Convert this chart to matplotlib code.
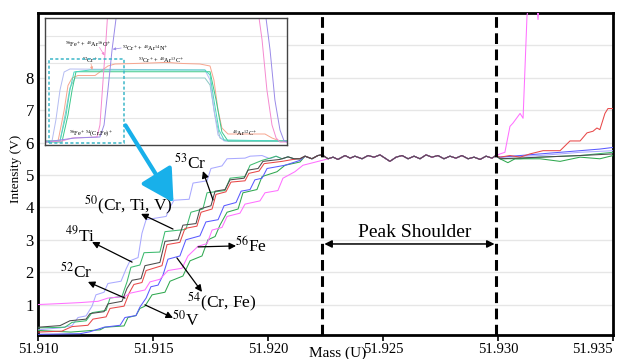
import numpy as np
import matplotlib
matplotlib.use("Agg")
import matplotlib.pyplot as plt
from matplotlib.patches import Rectangle, FancyArrowPatch

plt.rcParams['font.family'] = ['Liberation Serif', 'DejaVu Serif']
plt.rcParams['mathtext.fontset'] = 'stix'

# ---------------- main chart data (mass in u, intensity in V) ----------------
lav_m = [51.91000,51.91096,51.91148,51.91174,51.91209,51.91235,51.91252,51.91287,51.91304,51.91361,51.91383,51.91400,51.91435,51.91452,51.91470,51.91557,51.91574,51.91591,51.91657,51.91674,51.91735,51.91752,51.91800,51.91822,51.91900,51.91922,51.91974]
lav_v = [0.22,0.28,0.35,0.60,0.65,0.95,1.30,1.38,1.65,1.72,2.10,2.35,2.45,3.20,3.62,3.72,4.00,4.22,4.25,4.75,4.82,5.20,5.28,5.50,5.52,5.58,5.60]

g1_m = [51.91000,51.91117,51.91148,51.91209,51.91235,51.91296,51.91313,51.91365,51.91387,51.91404,51.91443,51.91461,51.91530,51.91552,51.91643,51.91665,51.91717,51.91735,51.91813,51.91835,51.91900,51.91922,51.91974,51.92009]
g1_v = [0.28,0.30,0.45,0.50,0.75,0.82,1.20,1.25,1.70,2.15,2.22,2.60,2.62,3.25,3.32,3.85,3.95,4.45,4.52,4.90,4.95,5.30,5.45,5.52]

gray_m = [51.91000,51.91096,51.91139,51.91209,51.91226,51.91287,51.91304,51.91365,51.91387,51.91409,51.91448,51.91465,51.91530,51.91552,51.91609,51.91630,51.91687,51.91704,51.91752,51.91770,51.91813,51.91835,51.91896,51.91913,51.91957,51.91978,51.92052]
gray_v = [0.30,0.35,0.50,0.55,0.72,0.78,1.02,1.10,1.50,1.75,1.80,2.20,2.30,2.95,3.00,3.45,3.50,3.95,4.05,4.50,4.55,4.85,4.90,5.15,5.20,5.42,5.48]

red_m = [51.91000,51.91104,51.91148,51.91217,51.91239,51.91296,51.91313,51.91374,51.91396,51.91417,51.91452,51.91470,51.91539,51.91561,51.91617,51.91639,51.91691,51.91709,51.91757,51.91774,51.91817,51.91839,51.91900,51.91917,51.91961,51.91983,51.92061,51.92126]
red_v = [0.15,0.18,0.32,0.36,0.55,0.62,0.88,0.95,1.35,1.62,1.68,2.05,2.20,2.85,2.92,3.35,3.42,3.85,3.95,4.40,4.48,4.78,4.82,5.05,5.12,5.35,5.42,5.50]

blue_m = [51.91000,51.91183,51.91226,51.91287,51.91357,51.91378,51.91426,51.91443,51.91470,51.91491,51.91522,51.91543,51.91565,51.91617,51.91643,51.91704,51.91730,51.91783,51.91809,51.91861,51.91883,51.91922,51.91943,51.91974,51.91996,51.92074,51.92139]
blue_v = [0.08,0.10,0.16,0.30,0.36,0.60,0.66,0.92,1.20,1.55,1.60,1.90,2.40,2.50,3.00,3.12,3.55,3.62,4.05,4.15,4.50,4.55,4.85,4.90,5.20,5.30,5.45]

mag_m = [51.91000,51.91096,51.91183,51.91261,51.91304,51.91378,51.91400,51.91465,51.91487,51.91530,51.91565,51.91626,51.91652,51.91696,51.91735,51.91757,51.91800,51.91822,51.91878,51.91900,51.91965,51.91987,51.92043,51.92065,51.92117,51.92152,51.92235]
mag_v = [1.00,1.03,1.06,1.10,1.20,1.25,1.35,1.45,1.70,1.78,2.05,2.12,2.50,2.80,2.88,3.30,3.38,3.72,3.82,4.10,4.20,4.45,4.52,4.90,5.10,5.30,5.45]

g2_m = [51.91000,51.91143,51.91270,51.91291,51.91374,51.91391,51.91426,51.91443,51.91465,51.91496,51.91552,51.91574,51.91630,51.91661,51.91713,51.91739,51.91770,51.91791,51.91822,51.91870,51.91891,51.91952,51.91974,51.92039,51.92074,51.92139]
g2_v = [0.20,0.15,0.22,0.30,0.34,0.60,0.66,0.88,0.95,1.30,1.38,1.72,1.88,2.35,2.50,3.00,3.10,3.45,3.85,3.95,4.45,4.55,4.95,5.10,5.30,5.40]

# flat-top "peak shoulder" region shared by all traces
sh_m = [51.92009,51.92035,51.92061,51.92087,51.92113,51.92139,51.92161,51.92191,51.92217,51.92235,51.92261,51.92283,51.92304,51.92335,51.92357,51.92378,51.92409,51.92435,51.92461,51.92487,51.92513,51.92530,51.92557,51.92583,51.92609,51.92635,51.92661,51.92687,51.92713,51.92739,51.92765,51.92791,51.92817,51.92843,51.92870,51.92896,51.92922,51.92948,51.92974,51.92991]
sh_v = [5.50,5.58,5.50,5.56,5.50,5.50,5.58,5.50,5.60,5.62,5.50,5.55,5.48,5.60,5.52,5.58,5.50,5.60,5.55,5.62,5.50,5.42,5.55,5.60,5.50,5.58,5.50,5.62,5.55,5.60,5.50,5.58,5.52,5.60,5.50,5.55,5.48,5.58,5.52,5.60]

# tails beyond the shoulder
mag_tm = [51.93009,51.93030,51.93052,51.93065,51.93096,51.93109,51.93126,51.93139,51.93165,51.93174,51.93183,51.93500]
mag_tv = [5.65,5.70,6.50,6.60,6.90,6.75,9.90,10.6,10.6,9.80,10.6,10.6]
red_tm = [51.93009,51.93052,51.93096,51.93139,51.93196,51.93270,51.93313,51.93357,51.93387,51.93413,51.93430,51.93443,51.93465,51.93478,51.93500]
red_tv = [5.55,5.60,5.55,5.65,5.75,5.75,6.05,6.05,6.30,6.35,6.45,6.40,6.90,7.05,7.05]
blue_tm = [51.93009,51.93096,51.93183,51.93270,51.93357,51.93443,51.93500]
blue_tv = [5.55,5.60,5.65,5.70,5.75,5.80,5.85]
lav_tm = [51.93009,51.93183,51.93357,51.93500]
lav_tv = [5.55,5.60,5.70,5.75]
g1_tm = [51.93009,51.93096,51.93183,51.93357,51.93500]
g1_tv = [5.50,5.50,5.55,5.60,5.70]
gray_tm = [51.93009,51.93183,51.93357,51.93500]
gray_tv = [5.50,5.55,5.60,5.65]
g2_tm = [51.93009,51.93043,51.93074,51.93183,51.93270,51.93357,51.93443,51.93500]
g2_tv = [5.50,5.38,5.50,5.50,5.42,5.55,5.50,5.60]

shoulder_bounds = [51.92235, 51.92991]
x_ticks = [51.910, 51.915, 51.920, 51.925, 51.930, 51.935]
y_ticks = [1, 2, 3, 4, 5, 6, 7, 8, 9]
y_ticklabels = ['1', '2', '3', '4', '5', '6', '7', '8', '']

# ---------------- inset data (arbitrary units) ----------------
in_sal_x = [0,5.4,7.9,9.5,11.2,13.6,20.7,26.0,28.9,35.0,43.4,50.0,57.0,64.0,68.2,69.8,71.5,73.1,75.6,90.9,93.8,97.1,100]
in_sal_y = [1.6,1.6,26,46,52,54,54,61.6,63.2,63.5,64,64.5,63.6,63.2,61.6,50.4,26.4,12,7.2,7.2,4,1.6,1.6]
in_tur_x = [0,6.2,8.7,10.3,12.0,18.6,43.4,66.1,68.2,69.8,71.9,74.0,100]
in_tur_y = [1.6,1.6,22.4,42.4,56.8,58.4,58.4,58.4,54.4,34.4,10.4,2.4,1.6]
in_grn_x = [0,7.0,9.5,11.2,12.8,68.2,70.7,73.1,75.6,100]
in_grn_y = [0.8,0.8,22.4,42.4,57.0,57.0,34.4,8.8,1.6,1.6]
in_lav_x = [0,2.9,4.5,6.2,7.9,10.3,66.1,68.2,69.8,71.5,74.0,100]
in_lav_y = [1.6,1.6,18.4,42.4,56.8,59.2,58.4,50.4,26.4,6.4,1.6,1.6]
in_tgr_x = [0,6.2,8.3,10.3,12.4,66.1,68.2,70.2,72.3,74.8,100]
in_tgr_y = [1.6,1.6,22.4,44,52,52,46.4,22.4,4,1.6,1.6]
in_pnk_x = [0,7.0,11.2,21.5,22.7,24.0,25.2,26.0,88.0,89.7,91.7,93.8,95.5,97.1,100]
in_pnk_y = [0.8,1.6,4,4.8,14.4,50.4,82.4,106.4,106.4,82.4,42.4,14.4,4,0.8,0.8]
in_pur_x = [0,12.4,22.7,24.4,26.0,27.7,29.8,90.9,93.0,95.0,97.1,98.8,100]
in_pur_y = [0.8,4,4.8,14.4,42.4,74.4,106.4,106.4,74.4,34.4,10.4,1.6,0.8]

# ---------------- figure ----------------
fig = plt.figure(figsize=(6.17, 3.59), dpi=100)
ax = fig.add_axes([38/617, 1-335/359, 575/617, 322/359])
ax.set_xlim(51.910, 51.935)
ax.set_ylim(0.06, 10.0)

def full(rm, rv, tm, tv):
    last = rm[-1]
    xs = list(rm) + [m for m in sh_m if m > last] + list(tm)
    ys = list(rv) + [v for m, v in zip(sh_m, sh_v) if m > last] + list(tv)
    return xs, ys

series = [
    (lav_m, lav_v, lav_tm, lav_tv, '#a9a9ff'),
    (g1_m, g1_v, g1_tm, g1_tv, '#3cba6e'),
    (g2_m, g2_v, g2_tm, g2_tv, '#2fa84f'),
    (blue_m, blue_v, blue_tm, blue_tv, '#5a5aff'),
    (red_m, red_v, red_tm, red_tv, '#e84848'),
    (mag_m, mag_v, mag_tm, mag_tv, '#ff70ff'),
    (gray_m, gray_v, gray_tm, gray_tv, '#4a4a4a'),
]
for rm, rv, tm, tv, c in series:
    xs, ys = full(rm, rv, tm, tv)
    ax.plot(xs, ys, color=c, lw=0.75, zorder=3)

for xb in shoulder_bounds:
    ax.axvline(xb, color='black', lw=2.2, ls=(0, (3.5, 1.8)), zorder=4)

ax.set_xticks(x_ticks)
ax.set_xticklabels(['%.3f' % t for t in x_ticks], fontsize=10.5)
ax.get_xticklabels()[-1].set_ha('right')
ax.set_yticks(y_ticks)
ax.set_yticklabels(y_ticklabels, fontsize=12)
ax.tick_params(axis='x', direction='out', length=4, width=1.2, pad=2)
ax.tick_params(axis='y', length=0, pad=3)
ax.yaxis.grid(True, color='#e6e6e6', lw=1)
ax.set_axisbelow(True)
for s in ax.spines.values():
    s.set_linewidth(2.0)

fig.text(338/617, 1-347/359, 'Mass (U)', fontsize=11, ha='center', va='top')
fig.text(16/617, 1-169/359, 'Intensity (V)', fontsize=9.5, rotation=90, ha='center', va='center')

# labels with arrows (head at label)
arrow_kw = dict(arrowstyle='-|>', color='black', lw=0.9, mutation_scale=10, shrinkA=0, shrinkB=0)
labels = [
    (r'$^{53}$Cr', (51.91661, 5.37), (51.91717, 5.12), (51.91761, 4.23)),
    (r'$^{50}$(Cr, Ti, V)', (51.91391, 4.07), (51.91448, 3.80), (51.91587, 3.33)),
    (r'$^{49}$Ti', (51.91183, 3.15), (51.91235, 2.93), (51.91409, 2.31)),
    (r'$^{52}$Cr', (51.91165, 2.00), (51.91217, 1.70), (51.91378, 1.20)),
    (r'$^{50}$V', (51.91643, 0.52), (51.91587, 0.59), (51.91465, 0.99)),
    (r'$^{54}$(Cr, Fe)', (51.91800, 1.08), (51.91713, 1.39), (51.91604, 2.44)),
    (r'$^{56}$Fe', (51.91926, 2.81), (51.91861, 2.81), (51.91696, 2.78)),
]
for txt, tpos, head, tail in labels:
    ax.text(tpos[0], tpos[1], txt, fontsize=12.5, ha='center', va='center', zorder=6)
    ax.annotate('', xy=head, xytext=tail, arrowprops=arrow_kw, zorder=6)

ax.annotate('', xy=(51.92985, 2.87), xytext=(51.92245, 2.87),
            arrowprops=dict(arrowstyle='<|-|>', color='black', lw=1.1, mutation_scale=11,
                            shrinkA=0, shrinkB=0), zorder=6)
ax.text(51.92639, 3.22, 'Peak Shoulder', fontsize=14, ha='center', va='center', zorder=6)

# ---------------- inset ----------------
ins = fig.add_axes([45/617, 1-145/359, 242/617, 127/359])
ins.set_xlim(0, 100)
ins.set_ylim(-1.6, 100)
ins.set_xticks([])
ins.set_yticks([20, 42, 64, 86])
ins.set_yticklabels([])
ins.tick_params(length=0)
ins.yaxis.grid(True, color='#e6e6e6', lw=0.8)
ins.set_axisbelow(True)
for s in ins.spines.values():
    s.set_linewidth(1.0)
    s.set_color('#444444')

ins.plot(in_tgr_x, in_tgr_y, color='#8cc8c4', lw=0.7)
ins.plot(in_lav_x, in_lav_y, color='#b4bcf2', lw=0.7)
ins.plot(in_sal_x, in_sal_y, color='#f7a58e', lw=0.7)
ins.plot(in_grn_x, in_grn_y, color='#3cc88a', lw=0.7)
ins.plot(in_tur_x, in_tur_y, color='#4ad8c0', lw=0.7)
ins.plot(in_pnk_x, in_pnk_y, color='#f58ad0', lw=0.7)
ins.plot(in_pur_x, in_pur_y, color='#9a8ae8', lw=0.7)

ins.add_patch(Rectangle((1.65, 0.0), 31.0, 67.2, fill=False, edgecolor='#3cb6c8',
                        lw=1.1, ls=(0, (2, 1.5)), zorder=5))

fs_in = 4.5
ins.text(17.8, 79.2, r'$^{56}$Fe$^{+}$ + $^{40}$Ar$^{16}$O$^{+}$', fontsize=fs_in, ha='center', va='center')
ins.text(31.8, 76.0, r'$^{52}$Cr$^{+}$ + $^{40}$Ar$^{14}$N$^{+}$', fontsize=fs_in, ha='left', va='center')
ins.text(18.6, 66.0, r'$^{52}$Cr$^{+}$', fontsize=fs_in, ha='center', va='center')
ins.text(48.0, 66.4, r'$^{53}$Cr$^{+}$ + $^{40}$Ar$^{13}$C$^{+}$', fontsize=fs_in, ha='center', va='center')
ins.text(19.0, 7.2, r'$^{56}$Fe$^{+}$ $^{54}$(Cr,Fe)$^{+}$', fontsize=fs_in, ha='center', va='center')
ins.text(82.6, 8.0, r'$^{40}$Ar$^{12}$C$^{+}$', fontsize=fs_in, ha='center', va='center')
small = dict(arrowstyle='-|>', lw=0.5, mutation_scale=4, shrinkA=0, shrinkB=0)
ins.annotate('', xy=(24.6, 70.0), xytext=(22.5, 76.5), arrowprops=dict(small, color='#f58ad0'))
ins.annotate('', xy=(28.0, 75.0), xytext=(31.5, 76.0), arrowprops=dict(small, color='#9a8ae8'))
ins.annotate('', xy=(19.5, 58.5), xytext=(19.0, 63.5), arrowprops=dict(small, color='#f7a58e'))

# big cyan arrow from inset box to staircase
fig.add_artist(FancyArrowPatch((124/617, 1-123/359), (175/617, 1-205/359),
                               transform=fig.transFigure,
                               arrowstyle='-|>,head_length=0.9,head_width=0.5',
                               mutation_scale=22, color='#18b0ea', lw=3, zorder=10))

fig.savefig('out.png', dpi=100)
